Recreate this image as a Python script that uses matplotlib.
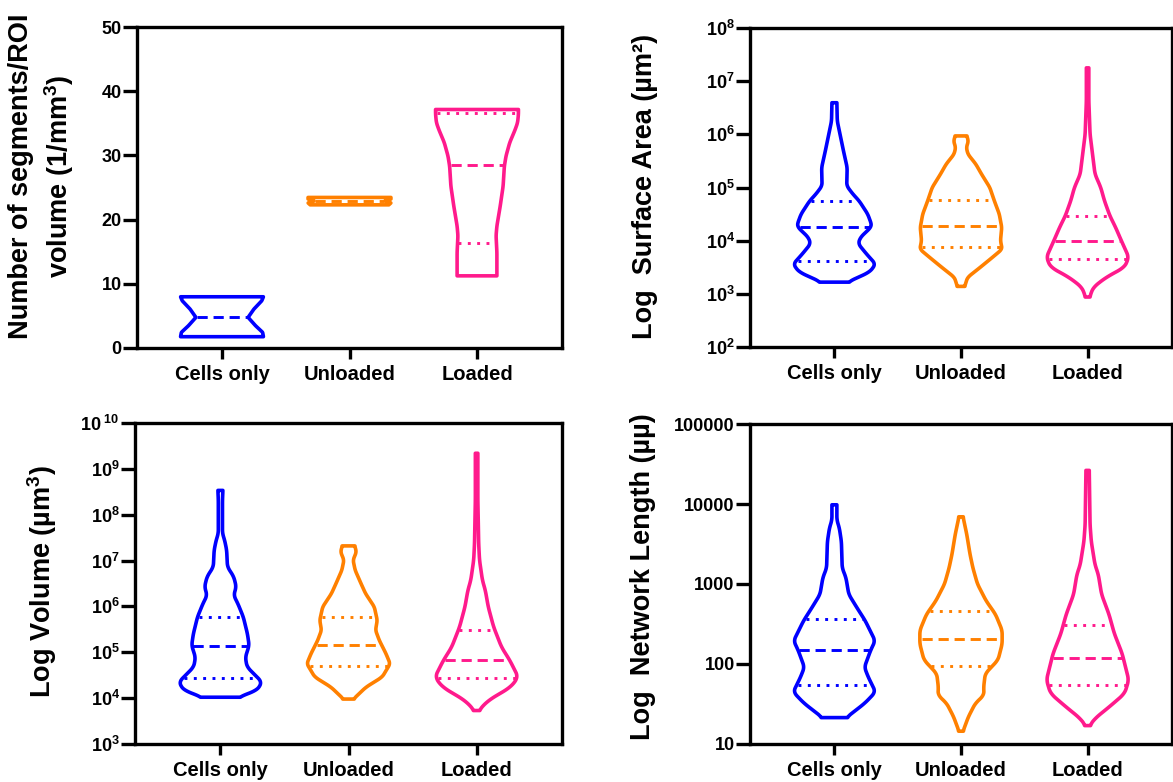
import numpy as np
import matplotlib
matplotlib.use("Agg")
import matplotlib.pyplot as plt
from matplotlib.ticker import FixedLocator, FixedFormatter

plt.rcParams['font.family'] = ['Liberation Sans', 'DejaVu Sans']
plt.rcParams['font.weight'] = 'bold'
plt.rcParams['mathtext.fontset'] = 'custom'
plt.rcParams['mathtext.rm'] = 'Liberation Sans:bold'
plt.rcParams['mathtext.bf'] = 'Liberation Sans:bold'
plt.rcParams['mathtext.it'] = 'Liberation Sans:bold'

# ---------------- data ----------------
categories = ["Cells only", "Unloaded", "Loaded"]
colors = ["#0000ff", "#ff8000", "#ff1a8c"]

# Panel A: Number of segments / ROI volume (linear); profile values + relative widths
seg_cells_y = [1.76, 2.44, 3.47, 4.77, 6.06, 7.36, 7.98]
seg_cells_w = [1.00, 0.98, 0.81, 0.63, 0.77, 0.96, 1.00]
seg_unl_y = [22.3, 22.6, 22.9, 23.2, 23.45]
seg_unl_w = [0.95, 1.00, 0.85, 1.00, 1.00]
seg_load_y = [11.24, 14.9, 17.5, 19.0, 22.1, 25.2, 28.3, 29.9, 32.0, 34.0, 35.1, 36.4, 37.15]
seg_load_w = [0.48, 0.48, 0.46, 0.48, 0.56, 0.63, 0.66, 0.70, 0.79, 0.92, 0.98, 1.00, 1.00]
seg_quart = [[None, 4.77, None], [None, 22.85, None], [16.3, 28.5, 36.6]]

# Panel B: Surface area (log10 of um^2)
sa_cells_y = [3.22, 3.41, 3.56, 3.75, 3.94, 4.06, 4.26, 4.31, 4.50, 4.75, 4.875, 5.03, 5.375, 5.69, 6.25, 6.594]
sa_cells_w = [0.32, 0.86, 1.00, 0.78, 0.58, 0.63, 0.90, 0.90, 0.81, 0.60, 0.45, 0.30, 0.31, 0.22, 0.07, 0.06]
sa_unl_y = [3.14, 3.31, 3.50, 3.69, 3.84, 4.00, 4.25, 4.50, 4.75, 5.00, 5.25, 5.44, 5.625, 5.75, 5.875, 5.97]
sa_unl_w = [0.09, 0.16, 0.47, 0.77, 1.00, 0.96, 0.99, 0.93, 0.81, 0.70, 0.50, 0.36, 0.17, 0.13, 0.18, 0.14]
sa_load_y = [2.94, 3.125, 3.31, 3.50, 3.69, 4.00, 4.25, 4.47, 4.75, 5.00, 5.25, 5.50, 6.00, 6.625, 7.25]
sa_load_w = [0.05, 0.14, 0.45, 0.90, 1.00, 0.82, 0.68, 0.54, 0.41, 0.32, 0.18, 0.14, 0.06, 0.03, 0.03]
sa_quart = [[3.625, 4.26, 4.75], [3.89, 4.28, 4.76], [3.66, 4.00, 4.47]]

# Panel C: Volume (log10 of um^3)
vol_cells_y = [4.02, 4.16, 4.35, 4.68, 4.89, 5.15, 5.40, 5.77, 6.06, 6.24, 6.43, 6.65, 6.86, 7.23, 7.45, 7.59, 8.32, 8.53]
vol_cells_w = [0.41, 0.87, 1.00, 0.64, 0.60, 0.69, 0.65, 0.55, 0.42, 0.32, 0.38, 0.32, 0.17, 0.15, 0.10, 0.05, 0.05, 0.06]
vol_unl_y = [3.98, 4.24, 4.46, 4.75, 4.97, 5.26, 5.48, 5.70, 5.99, 6.28, 6.50, 6.79, 7.01, 7.19, 7.32]
vol_unl_w = [0.12, 0.42, 0.81, 1.00, 0.90, 0.74, 0.65, 0.69, 0.62, 0.41, 0.30, 0.16, 0.11, 0.19, 0.15]
vol_load_y = [3.73, 3.95, 4.24, 4.46, 4.82, 5.11, 5.55, 5.99, 6.35, 6.57, 7.01, 7.37, 8.32, 9.34]
vol_load_w = [0.05, 0.28, 0.82, 1.00, 0.80, 0.60, 0.41, 0.28, 0.21, 0.14, 0.07, 0.05, 0.03, 0.03]
vol_quart = [[4.43, 5.13, 5.77], [4.70, 5.16, 5.77], [4.44, 4.84, 5.48]]

# Panel D: Network length (log10)
len_cells_y = [1.33, 1.51, 1.65, 1.84, 1.96, 2.17, 2.29, 2.54, 2.71, 2.87, 3.08, 3.20, 3.53, 3.70, 3.80, 3.99]
len_cells_w = [0.29, 0.74, 1.00, 0.82, 0.73, 0.88, 0.99, 0.75, 0.54, 0.35, 0.28, 0.19, 0.17, 0.12, 0.06, 0.06]
len_unl_y = [1.16, 1.34, 1.51, 1.61, 1.71, 1.88, 2.05, 2.25, 2.42, 2.62, 2.79, 3.00, 3.20, 3.37, 3.62, 3.84]
len_unl_w = [0.05, 0.18, 0.35, 0.56, 0.55, 0.59, 0.90, 1.00, 1.00, 0.84, 0.61, 0.40, 0.29, 0.22, 0.14, 0.05]
len_load_y = [1.23, 1.32, 1.47, 1.63, 1.80, 2.13, 2.38, 2.62, 2.87, 3.12, 3.24, 3.53, 3.74, 4.42]
len_load_w = [0.05, 0.18, 0.54, 0.90, 1.00, 0.84, 0.65, 0.52, 0.34, 0.26, 0.18, 0.09, 0.06, 0.04]
len_quart = [[1.74, 2.18, 2.56], [1.97, 2.31, 2.66], [1.74, 2.07, 2.49]]

# ---------------- drawing ----------------
HW = 0.325  # max half width of a violin (x data units)


def smooth_profile(y, w, n=240, k=9):
    y = np.asarray(y, float)
    w = np.asarray(w, float)
    yy = np.linspace(y[0], y[-1], n)
    ww = np.interp(yy, y, w)
    pad = k // 2
    wp = np.concatenate([np.full(pad, ww[0]), ww, np.full(pad, ww[-1])])
    ws = np.convolve(wp, np.ones(k) / k, mode="valid")
    return yy, ws


def draw_violin(ax, xc, y, w, quart, color, log):
    yy, ww = smooth_profile(y, w)
    xs = np.concatenate([xc - ww * HW, (xc + ww * HW)[::-1]])
    ys = np.concatenate([yy, yy[::-1]])
    yv = 10 ** ys if log else ys
    ax.fill(xs, yv, facecolor="none", edgecolor=color, lw=2.6,
            joinstyle="round", zorder=3)
    for i, q in enumerate(quart):
        if q is None:
            continue
        half = np.interp(q, yy, ww) * HW
        qv = 10 ** q if log else q
        ls = (0, (3.5, 2.0)) if i == 1 else (0, (1, 2.2))
        ax.plot([xc - half * 0.96, xc + half * 0.96], [qv, qv], color=color,
                lw=2.1, ls=ls, dash_capstyle="butt", zorder=3)


def style_axes(ax):
    for s in ax.spines.values():
        s.set_linewidth(2.4)
        s.set_color("black")
    ax.set_xlim(1 / 3, 11 / 3)
    ax.set_xticks([1, 2, 3])
    ax.set_xticklabels(categories, fontsize=14.5, fontweight="bold")
    ax.tick_params(axis="x", length=8, width=2.4, pad=4)
    ax.tick_params(axis="y", length=10, width=2.4, pad=1, labelsize=13)
    ax.minorticks_off()
    ax.tick_params(which="minor", length=0)


fig = plt.figure(figsize=(11.73, 7.82), dpi=100)
W, H = 1173.0, 782.0
ax1 = fig.add_axes([137 / W, 1 - 348 / H, 425 / W, 321 / H])
ax2 = fig.add_axes([750 / W, 1 - 347 / H, 422 / W, 319 / H])
ax3 = fig.add_axes([135 / W, 1 - 744 / H, 427 / W, 321 / H])
ax4 = fig.add_axes([750 / W, 1 - 744 / H, 422 / W, 320 / H])

# Panel A
for i, (y, w) in enumerate([(seg_cells_y, seg_cells_w), (seg_unl_y, seg_unl_w),
                            (seg_load_y, seg_load_w)]):
    draw_violin(ax1, i + 1, y, w, seg_quart[i], colors[i], log=False)
style_axes(ax1)
ax1.set_ylim(0, 50)
ax1.set_yticks([0, 10, 20, 30, 40, 50])
ax1.set_yticklabels(["0", "10", "20", "30", "40", "50"], fontweight="bold")

panels = [
    (ax2, [(sa_cells_y, sa_cells_w), (sa_unl_y, sa_unl_w), (sa_load_y, sa_load_w)], sa_quart, (2, 8)),
    (ax3, [(vol_cells_y, vol_cells_w), (vol_unl_y, vol_unl_w), (vol_load_y, vol_load_w)], vol_quart, (3, 10)),
    (ax4, [(len_cells_y, len_cells_w), (len_unl_y, len_unl_w), (len_load_y, len_load_w)], len_quart, (1, 5)),
]
for ax, groups, quarts, (lo, hi) in panels:
    ax.set_yscale("log")
    for i, (y, w) in enumerate(groups):
        draw_violin(ax, i + 1, y, w, quarts[i], colors[i], log=True)
    style_axes(ax)
    ax.set_ylim(10 ** lo, 10 ** hi)
    exps = list(range(lo, hi + 1))
    ax.yaxis.set_major_locator(FixedLocator([10.0 ** e for e in exps]))
    if ax is ax4:
        labs = [str(10 ** e) for e in exps]
    elif ax is ax3:
        labs = [r"$10^{%d}$" % e if e < 10 else r"$10^{\ %d}$" % e for e in exps]
    else:
        labs = [r"$10^{%d}$" % e for e in exps]
    ax.yaxis.set_major_formatter(FixedFormatter(labs))
    ax.yaxis.set_minor_locator(FixedLocator([]))
    for t in ax.get_yticklabels():
        t.set_fontweight("bold")

# y-axis labels
fig.text(42 / W, 1 - 176 / H, "Number of segments/ROI\nvolume (1/mm$^{3}$)", rotation=90,
         ha="center", va="center", fontsize=19.5, fontweight="bold", linespacing=1.3,
         multialignment="center")
fig.text(645 / W, 1 - 186 / H, "Log  Surface Area (µm²)", rotation=90,
         ha="center", va="center", fontsize=19.5, fontweight="bold")
fig.text(42 / W, 1 - 582 / H, "Log Volume (µm$^{3}$)", rotation=90,
         ha="center", va="center", fontsize=19.5, fontweight="bold")
fig.text(643 / W, 1 - 577 / H, "Log  Network Length (µµ)", rotation=90,
         ha="center", va="center", fontsize=19.5, fontweight="bold")

fig.savefig("out.png", dpi=100)
